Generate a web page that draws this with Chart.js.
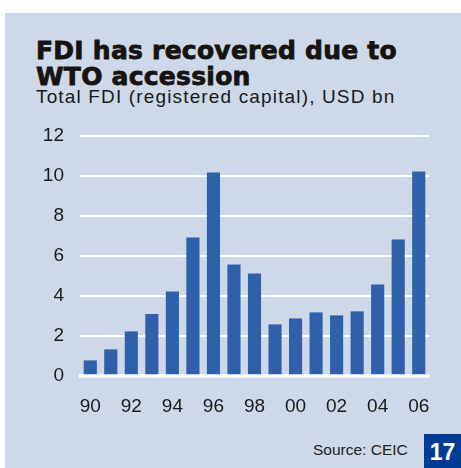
<!DOCTYPE html>
<html>
<head>
<meta charset="utf-8">
<script src="https://cdn.jsdelivr.net/npm/chart.js@4"></script>
<style>
  html, body { margin: 0; padding: 0; background: #fff; }
  #page { position: relative; width: 461px; height: 468px; overflow: hidden; font-family: "Liberation Sans", Arial, sans-serif; }
  #panel { position: absolute; left: 5px; top: 13px; width: 456px; height: 455px; background: #cdd8e9; }
  #title { position: absolute; left: 36px; top: 38px; font-family: "DejaVu Sans", sans-serif; font-size: 25px; line-height: 25.5px; font-weight: bold; letter-spacing: 0.25px; color: #17130f; -webkit-text-stroke: 0.8px #17130f; white-space: nowrap; }
  #subtitle { position: absolute; left: 36px; top: 86px; font-size: 19px; line-height: 22px; letter-spacing: 1.15px; color: #1a1a1a; white-space: nowrap; }
  #chartBox { position: absolute; left: 0; top: 116px; width: 461px; height: 310px; }
  #source { position: absolute; left: 313px; top: 441px; font-size: 15.5px; color: #222; }
  #page-no { position: absolute; left: 424px; top: 434px; width: 37px; height: 34px; background: #003c96; color: #fff; font-weight: bold; font-size: 23px; line-height: 36px; text-align: center; }
</style>
</head>
<body>
<div id="page">
  <div id="panel"></div>
  <div id="title">FDI has recovered due to<br>WTO accession</div>
  <div id="subtitle">Total FDI (registered capital), USD bn</div>
  <div id="chartBox"><canvas id="fdiChart" width="461" height="310"></canvas></div>
  <div id="source">Source: CEIC</div>
  <div id="page-no">17</div>
</div>
<script>
// data
var years = ['90', '91', '92', '93', '94', '95', '96', '97', '98', '99', '00', '01', '02', '03', '04', '05', '06'];
var fdi = [0.78, 1.33, 2.23, 3.1, 4.23, 6.93, 10.18, 5.58, 5.13, 2.58, 2.88, 3.18, 3.03, 3.23, 4.58, 6.83, 10.23];
var yTicks = [0, 2, 4, 6, 8, 10, 12];

// thicker white base line drawn over the bar bottoms
var zeroLine = {
  id: 'zeroLine',
  afterDatasetsDraw: function (chart) {
    var ctx = chart.ctx;
    var y = chart.scales.y.getPixelForValue(0);
    ctx.save();
    ctx.strokeStyle = '#ffffff';
    ctx.lineWidth = 3.5;
    ctx.beginPath();
    ctx.moveTo(chart.chartArea.left - 1, y);
    ctx.lineTo(chart.chartArea.right + 1, y);
    ctx.stroke();
    ctx.restore();
  }
};

document.addEventListener('DOMContentLoaded', function () {
  var canvas = document.getElementById('fdiChart');
  new Chart(canvas.getContext('2d'), {
    type: 'bar',
    data: {
      labels: years,
      datasets: [{
        label: 'Total FDI (USD bn)',
        data: fdi,
        backgroundColor: '#3160ab',
        borderWidth: 0,
        barPercentage: 0.64,
        categoryPercentage: 1
      }]
    },
    options: {
      responsive: false,
      animation: false,
      layout: { padding: { top: 20, right: 32, left: 0, bottom: 0 } },
      plugins: { legend: { display: false }, tooltip: { enabled: false } },
      scales: {
        x: {
          grid: { display: false },
          border: { display: false },
          afterFit: function (scale) {
            scale.height = 50;
            scale.paddingLeft = 0;
            scale.paddingRight = 0;
          },
          ticks: {
            autoSkip: false,
            maxRotation: 0,
            padding: 11,
            color: '#1a1a1a',
            font: { family: 'Liberation Sans', size: 19 },
            callback: function (val, i) { return i % 2 === 0 ? years[i] : ''; }
          }
        },
        y: {
          min: 0,
          max: 12,
          afterBuildTicks: function (scale) { scale.ticks = yTicks.map(function (v) { return { value: v }; }); },
          afterFit: function (scale) {
            scale.width = 80;
            scale.paddingTop = 0;
            scale.paddingBottom = 0;
          },
          border: { display: false },
          grid: {
            drawTicks: false,
            color: function (c) { return c.tick && c.tick.value === 0 ? 'rgba(0,0,0,0)' : '#ffffff'; },
            lineWidth: 2
          },
          ticks: {
            padding: 16,
            color: '#1a1a1a',
            font: { family: 'Liberation Sans', size: 19 }
          }
        }
      }
    },
    plugins: [zeroLine]
  });
});
</script>
</body>
</html>
